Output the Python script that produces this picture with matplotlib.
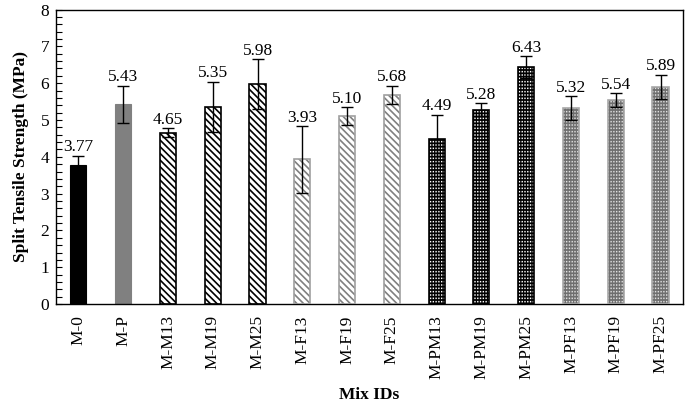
import matplotlib
matplotlib.use("Agg")
import matplotlib.pyplot as plt
import numpy as np

categories = ["M-0", "M-P", "M-M13", "M-M19", "M-M25", "M-F13", "M-F19", "M-F25",
              "M-PM13", "M-PM19", "M-PM25", "M-PF13", "M-PF19", "M-PF25"]
values = [3.77, 5.43, 4.65, 5.35, 5.98, 3.93, 5.10, 5.68, 4.49, 5.28, 6.43, 5.32, 5.54, 5.89]
errors = [0.25, 0.50, 0.12, 0.68, 0.67, 0.90, 0.24, 0.25, 0.65, 0.17, 0.30, 0.32, 0.18, 0.33]
labels = ["3.77", "5.43", "4.65", "5.35", "5.98", "3.93", "5.10", "5.68",
          "4.49", "5.28", "6.43", "5.32", "5.54", "5.89"]
groups = ["solid_k", "solid_g", "hatch_k", "hatch_k", "hatch_k", "hatch_g", "hatch_g", "hatch_g",
          "brick_k", "brick_k", "brick_k", "brick_g", "brick_g", "brick_g"]

plt.rcParams['font.family'] = ['Liberation Serif', 'DejaVu Serif']

fig = plt.figure(figsize=(6.85, 4.05), dpi=100)
ax = fig.add_axes([0.0818, 0.249, 0.9152, 0.7275])

x = np.arange(len(categories))
w = 0.36
gray = "#808080"
for xi, v, g in zip(x, values, groups):
    if g == "solid_k":
        ax.bar(xi, v, w, color="black", edgecolor="black", linewidth=0.8, zorder=2)
    elif g == "solid_g":
        ax.bar(xi, v, w, color=gray, edgecolor=gray, linewidth=0.8, zorder=2)
    elif g in ("hatch_k", "hatch_g"):
        hc = "black" if g == "hatch_k" else gray
        ec = "black" if g == "hatch_k" else "#a0a0a0"
        with plt.rc_context({'hatch.linewidth': 1.2}):
            ax.bar(xi, v, w, color="white", edgecolor=hc, hatch="\\\\\\\\\\", linewidth=0, zorder=2)
        ax.bar(xi, v, w, fill=False, edgecolor=ec, linewidth=1.2, zorder=3)
    else:
        fc = "black" if g == "brick_k" else "#6e6e6e"
        hc = "white" if g == "brick_k" else "#e0e0e0"
        ec = "black" if g == "brick_k" else "#a8a8a8"
        with plt.rc_context({'hatch.linewidth': 1.1}):
            ax.bar(xi, v, w, color=fc, edgecolor=hc, hatch="-----", linewidth=0, zorder=2)
        with plt.rc_context({'hatch.linewidth': 1.0}):
            ax.bar(xi, v, w, fill=False, edgecolor=fc, hatch="||||||", linewidth=0, zorder=2.5)
        ax.bar(xi, v, w, fill=False, edgecolor=ec, linewidth=1.2, zorder=3)

ax.errorbar(x, values, yerr=errors, fmt="none", ecolor="black", elinewidth=1.0,
            capsize=4, capthick=1.0, zorder=4)

for xi, v, e, lab in zip(x, values, errors, labels):
    ax.text(xi, v + e + 0.02, lab, ha="center", va="bottom", fontsize=12.5, zorder=5)

ax.set_xlim(-0.5, len(categories) - 0.5)
ax.set_ylim(0, 8)
ax.set_yticks(np.arange(0, 9, 1))
ax.set_yticks(np.arange(0, 8.01, 0.2), minor=True)
ax.tick_params(axis="y", which="both", direction="in", length=4, width=0.8, labelsize=12.5, pad=5)
ax.tick_params(axis="x", which="both", length=0, labelsize=12.5, pad=8)
ax.set_xticks(x)
ax.set_xticklabels(categories, rotation=90)

for s in ax.spines.values():
    s.set_linewidth(1.0)
    s.set_color("black")

ax.set_ylabel("Split Tensile Strength (MPa)", fontsize=12.5, fontweight="bold", labelpad=8)
ax.set_xlabel("Mix IDs", fontsize=12.5, fontweight="bold", labelpad=6)

fig.savefig("out.png", dpi=100)
